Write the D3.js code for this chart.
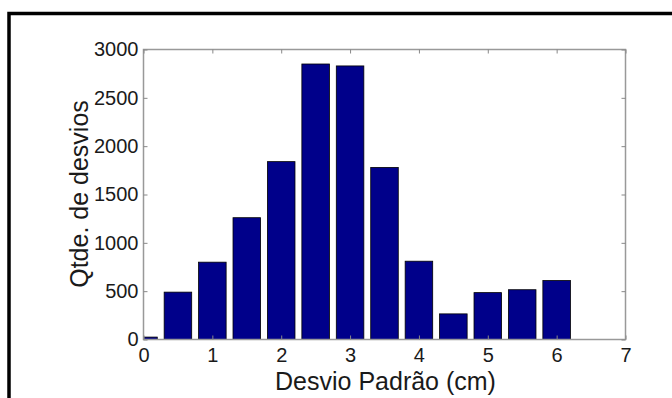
<!DOCTYPE html>
<html>
<meta charset="utf-8">
<style>

    body {
        margin: 0;
        background: #fff;
        font-family: Arial, "Liberation Sans", sans-serif;
    }

    .tick text {
        fill: #1a1a1a;
    }

</style>
<body>
<script src="https://d3js.org/d3.v7.min.js"></script>
<script>

    // histogram bins (bin centre in cm) and counts
    var centers = [0, 0.5, 1, 1.5, 2, 2.5, 3, 3.5, 4, 4.5, 5, 5.5, 6];
    var counts = [25, 490, 800, 1260, 1840, 2850, 2830, 1780, 810, 265, 485, 515, 610];
    var xTicks = [0, 1, 2, 3, 4, 5, 6, 7];
    var yTicks = [0, 500, 1000, 1500, 2000, 2500, 3000];
    var barWidth = 0.4;

    var margin = {top: 49.5, left: 143.5},
        width = 482,
        height = 290;

    var svg = d3.select("body")
        .append("svg")
        .attr("width", 672)
        .attr("height", 398);

    // outer black frame (cut off at right and bottom in the original)
    svg.append("rect")
        .attr("x", 9)
        .attr("y", 13.5)
        .attr("width", 720)
        .attr("height", 420)
        .attr("fill", "none")
        .attr("stroke", "#000")
        .attr("stroke-width", 3.5);

    var g = svg.append("g")
        .attr("transform", "translate(" + margin.left + "," + margin.top + ")");

    var x = d3.scaleLinear()
        .domain([0, 7])
        .range([0, width]);

    var y = d3.scaleLinear()
        .domain([0, 3000])
        .range([height, 0]);

    g.append("clipPath")
        .attr("id", "plot")
        .append("rect")
        .attr("width", width)
        .attr("height", height);

    var data = centers.map(function(c, i) { return {c: c, n: counts[i]}; });

    g.append("g")
        .attr("clip-path", "url(#plot)")
        .selectAll("rect")
        .data(data)
        .enter()
        .append("rect")
        .attr("x", function(d) { return x(d.c - barWidth / 2); })
        .attr("width", function(d) { return x(barWidth) - x(0); })
        .attr("y", function(d) { return y(d.n); })
        .attr("height", function(d) { return height - y(d.n); })
        .attr("fill", "#00008a")
        .attr("stroke", "#000")
        .attr("stroke-width", 0.8);

    // axes box
    g.append("rect")
        .attr("width", width)
        .attr("height", height)
        .attr("fill", "none")
        .attr("stroke", "#999")
        .attr("stroke-width", 1.5);

    function style(sel) {
        sel.select(".domain").remove();
        sel.selectAll(".tick line").attr("stroke", "#888");
        sel.selectAll(".tick text").style("font-size", "20px");
    }

    g.append("g")
        .attr("transform", "translate(0," + height + ")")
        .call(d3.axisBottom(x).tickValues(xTicks).tickSizeInner(-4).tickPadding(8).tickFormat(d3.format("d")))
        .call(style);

    g.append("g")
        .call(d3.axisTop(x).tickValues(xTicks).tickSizeInner(-4).tickFormat(""))
        .call(style);

    g.append("g")
        .call(d3.axisLeft(y).tickValues(yTicks).tickSizeInner(-4).tickPadding(5).tickFormat(d3.format("d")))
        .call(style);

    g.append("g")
        .attr("transform", "translate(" + width + ",0)")
        .call(d3.axisRight(y).tickValues(yTicks).tickSizeInner(-4).tickFormat(""))
        .call(style);

    svg.append("text")
        .attr("x", margin.left + width / 2 + 1)
        .attr("y", 390)
        .attr("text-anchor", "middle")
        .style("font-size", "25px")
        .style("fill", "#1a1a1a")
        .text("Desvio Padrão (cm)");

    svg.append("text")
        .attr("transform", "translate(88,194) rotate(-90)")
        .attr("text-anchor", "middle")
        .style("font-size", "25px")
        .style("fill", "#1a1a1a")
        .text("Qtde. de desvios");

</script>
</html>
